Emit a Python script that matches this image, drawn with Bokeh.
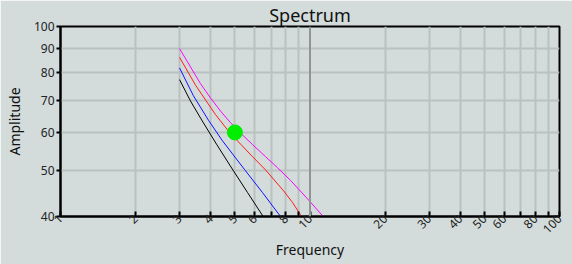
from bokeh.plotting import figure
from bokeh.models import FixedTicker, Range1d, Span
from bokeh.embed import file_html
from bokeh.resources import INLINE
import math

# Data
black_x = [3.0, 3.32, 3.70, 4.22, 4.88, 5.62, 6.49]
black_y = [77.4, 69.8, 63.4, 56.7, 50.3, 44.9, 40.0]
blue_x = [3.0, 3.41, 3.92, 4.46, 5.46, 6.45, 7.62]
blue_y = [81.9, 71.6, 63.6, 57.6, 50.2, 44.9, 40.0]
red_x = [3.0, 3.48, 4.18, 4.71, 5.27, 5.88, 6.63, 7.83, 8.51, 9.25]
red_y = [86.2, 75.3, 65.4, 60.4, 56.7, 53.4, 50.1, 45.3, 42.8, 40.0]
magenta_x = [3.0, 3.64, 3.99, 4.38, 4.80, 5.27, 5.88, 6.63, 7.41, 8.36, 9.68, 11.3]
magenta_y = [89.9, 75.9, 70.9, 66.5, 62.9, 59.8, 56.6, 53.4, 50.6, 47.6, 43.8, 40.0]
marker_x = [5.0]
marker_y = [60.0]

x_ticks = [1, 2, 3, 4, 5, 6, 7, 8, 9, 10, 20, 30, 40, 50, 60, 70, 80, 90, 100]
x_hidden = [7, 9, 70, 90]
y_ticks = [40, 50, 60, 70, 80, 90, 100]

BG = "#d3dcdb"
GRID = "#b9c1c1"
FONT = "Noto Sans"

p = figure(width=572, height=264, x_axis_type="log", y_axis_type="log",
           x_range=Range1d(1, 100), y_range=Range1d(40, 100),
           output_backend="svg", toolbar_location=None,
           title="Spectrum",
           min_border_left=60, min_border_right=13,
           min_border_top=25, min_border_bottom=48)

p.background_fill_color = BG
p.border_fill_color = BG
p.outline_line_color = "black"
p.outline_line_width = 2

p.title.align = "center"
p.title.text_font = FONT
p.title.text_font_size = "18px"
p.title.text_font_style = "normal"
p.title.text_color = "#111111"
p.title.offset = 0
p.title.standoff = 0

# x axis
xa = p.xaxis[0]
xa.ticker = FixedTicker(ticks=x_ticks, minor_ticks=[])
xa.major_label_overrides = {t: ("" if t in x_hidden else str(t)) for t in x_ticks}
xa.major_label_orientation = math.pi / 4
xa.major_tick_in = 5
xa.major_tick_out = 0
xa.minor_tick_in = 0
xa.minor_tick_out = 0
xa.axis_line_width = 2
xa.major_tick_line_width = 2
xa.axis_label = "Frequency"
xa.axis_label_text_font = FONT
xa.axis_label_text_font_size = "14px"
xa.axis_label_text_font_style = "normal"
xa.axis_label_text_color = "#111111"
xa.major_label_text_font = FONT
xa.major_label_text_font_size = "12px"
xa.major_label_text_color = "#222222"
xa.major_label_standoff = 0
xa.axis_label_standoff = 0

# y axis
ya = p.yaxis[0]
ya.ticker = FixedTicker(ticks=y_ticks, minor_ticks=[])
ya.major_label_overrides = {t: str(t) for t in y_ticks}
ya.major_tick_in = 0
ya.major_tick_out = 4
ya.minor_tick_in = 0
ya.minor_tick_out = 0
ya.axis_line_width = 2
ya.major_tick_line_width = 2
ya.axis_label = "Amplitude"
ya.axis_label_text_font = FONT
ya.axis_label_text_font_size = "14px"
ya.axis_label_text_font_style = "normal"
ya.axis_label_text_color = "#111111"
ya.major_label_text_font = FONT
ya.major_label_text_font_size = "12px"
ya.major_label_text_color = "#222222"
ya.major_label_standoff = 2
ya.axis_label_standoff = 7

# grids
p.xgrid[0].ticker = FixedTicker(ticks=[t for t in x_ticks if t not in (1, 10, 100)])
p.xgrid[0].grid_line_color = GRID
p.xgrid[0].grid_line_width = 2
p.ygrid[0].ticker = FixedTicker(ticks=[t for t in y_ticks if t not in (40, 100)])
p.ygrid[0].grid_line_color = GRID
p.ygrid[0].grid_line_width = 2
p.add_layout(Span(location=10, dimension="height", line_color="#8f9595", line_width=2))

p.line(black_x, black_y, line_color="black", line_width=1)
p.line(blue_x, blue_y, line_color="#1010ff", line_width=1)
p.line(red_x, red_y, line_color="#ff1a1a", line_width=1)
p.line(magenta_x, magenta_y, line_color="#ff00ff", line_width=1)
p.scatter(marker_x, marker_y, size=15, fill_color="#00ee00", line_color="#00ee00")

open("out.html", "w").write(file_html(p, INLINE))
